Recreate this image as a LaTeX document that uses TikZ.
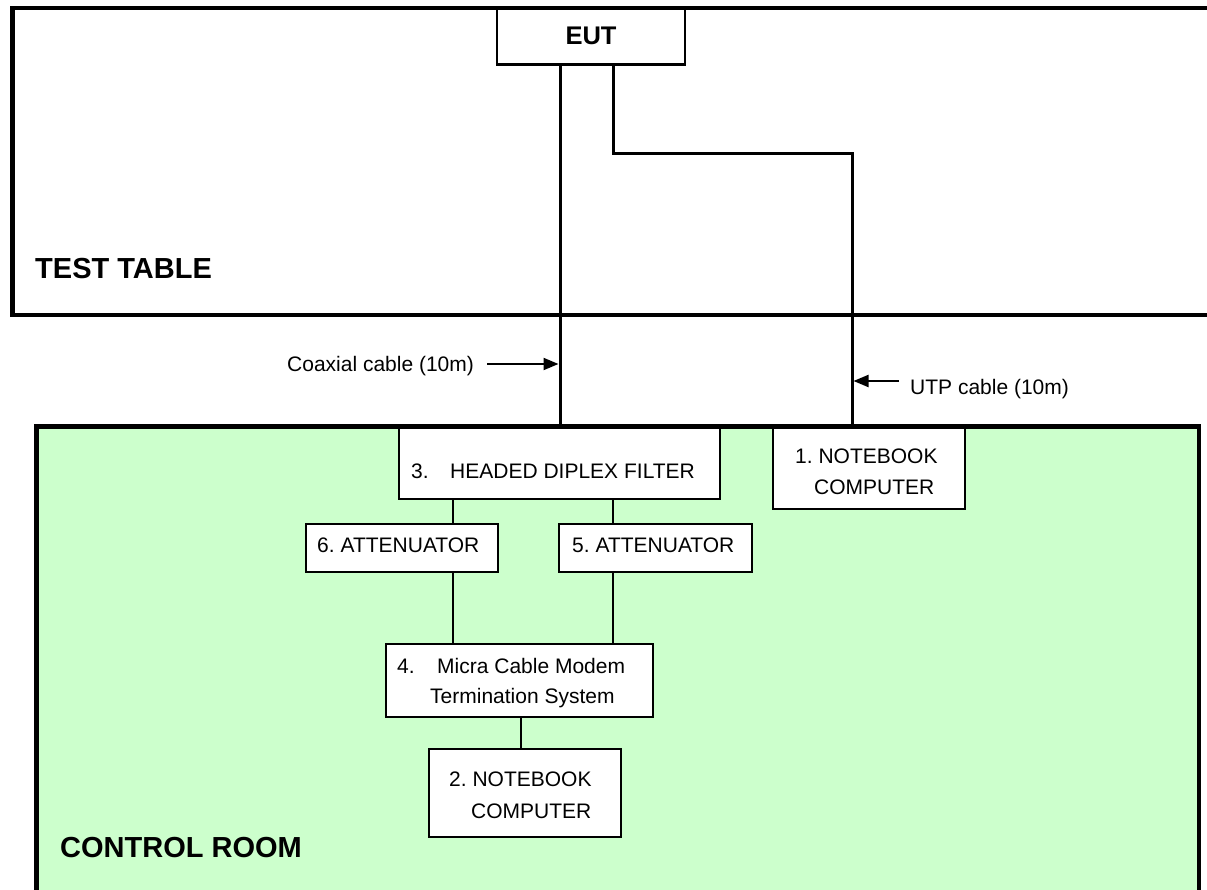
\documentclass[tikz,border=0pt]{standalone}
\usepackage{fontspec}
\setmainfont{Liberation Sans}
\usetikzlibrary{arrows.meta}
\definecolor{roomgreen}{HTML}{CCFFCC}
\frenchspacing
\begin{document}
\begin{tikzpicture}[x=1pt,y=-1pt,
  wall/.style={line width=4.5pt, line join=miter},
  box/.style={draw, fill=white, line width=1.7pt, inner sep=0pt},
  cable/.style={line width=3pt},
  link/.style={line width=2.1pt},
  lbl/.style={anchor=base west, inner sep=0pt, font=\fontsize{21}{25}\selectfont},
  roomtitle/.style={anchor=base west, inner sep=0pt, font=\bfseries\fontsize{29}{34}\selectfont},
  pointer/.style={line width=2pt, -{Triangle[length=15pt,width=12pt]}}]

\useasboundingbox (0,0) rectangle (1207,890);
\fill[white] (0,0) rectangle (1207,890);

% control room area
\fill[roomgreen] (36.5,426.5) rectangle (1199,900);

% boxes
\node[box, minimum width=188pt, minimum height=56pt, font=\bfseries\fontsize{25.5}{30}\selectfont] (eut) at (591,36) {EUT};
\node[box, minimum width=321pt, minimum height=72pt] (hdf) at (559.5,463) {};
\node[box, minimum width=192pt, minimum height=82pt] (nb1) at (869,468) {};
\node[box, minimum width=192pt, minimum height=48pt] (att6) at (402,548) {};
\node[box, minimum width=193pt, minimum height=48pt] (att5) at (655.5,548) {};
\node[box, minimum width=267pt, minimum height=73pt] (mcm) at (519.5,680.5) {};
\node[box, minimum width=192pt, minimum height=88pt] (nb2) at (525,793) {};

% texts
\node[lbl] (thdf) at (411,478) {3.\hspace{21.5pt}HEADED DIPLEX FILTER};
\node[lbl] (tnb1a) at (795,463) {1. NOTEBOOK};
\node[lbl] (tnb1b) at (814,494) {COMPUTER};
\node[lbl] (tatt6) at (317,552) {6. ATTENUATOR};
\node[lbl] (tatt5) at (572,552) {5. ATTENUATOR};
\node[lbl] (tmcma) at (397,673) {4.};
\node[lbl] (tmcmb) at (437,673) {Micra Cable Modem};
\node[lbl] (tmcmc) at (430,703) {Termination System};
\node[lbl] (tnb2a) at (449,786) {2. NOTEBOOK};
\node[lbl] (tnb2b) at (471,818) {COMPUTER};
\node[lbl] (tcoax) at (287,372) {Coaxial cable (10m)};
\node[lbl] (tutp) at (910,394) {UTP cable (10m)};
\node[roomtitle] (ttable) at (35,279) {TEST TABLE};
\node[roomtitle] (troom) at (60,857) {CONTROL ROOM};

% coordinates for connectors
\coordinate (cx1) at (560,0);
\coordinate (cx2) at (613,0);
\coordinate (utpbend) at (852,154);
\coordinate (lx1) at (453,0);
\coordinate (lx2) at (613,0);
\coordinate (lx3) at (521,0);
\coordinate (coaxtail) at (487,364);
\coordinate (coaxtip) at (558.5,364);
\coordinate (utptail) at (899,381);
\coordinate (utptip) at (853.5,381);

% cables
\draw[cable] (eut.south -| cx1) -- (hdf.north -| cx1);
\draw[cable] (eut.south -| cx2) |- (utpbend) -- (utpbend |- nb1.north);

% links in control room
\draw[link] (hdf.south -| lx1) -- (att6.north -| lx1);
\draw[link] (att6.south -| lx1) -- (mcm.north -| lx1);
\draw[link] (hdf.south -| lx2) -- (att5.north -| lx2);
\draw[link] (att5.south -| lx2) -- (mcm.north -| lx2);
\draw[link] (mcm.south -| lx3) -- (nb2.north -| lx3);

% pointers
\draw[pointer] (coaxtail) -- (coaxtip);
\draw[pointer] (utptail) -- (utptip);

% walls
\draw[wall] (1215,8) -- (12.5,8) -- (12.5,315) -- (1215,315);
\draw[wall] (36.5,900) -- (36.5,426.5) -- (1199,426.5) -- (1199,900);
\draw[line width=2.8pt] (eut.south west) -- (eut.south east);
\end{tikzpicture}
\end{document}
